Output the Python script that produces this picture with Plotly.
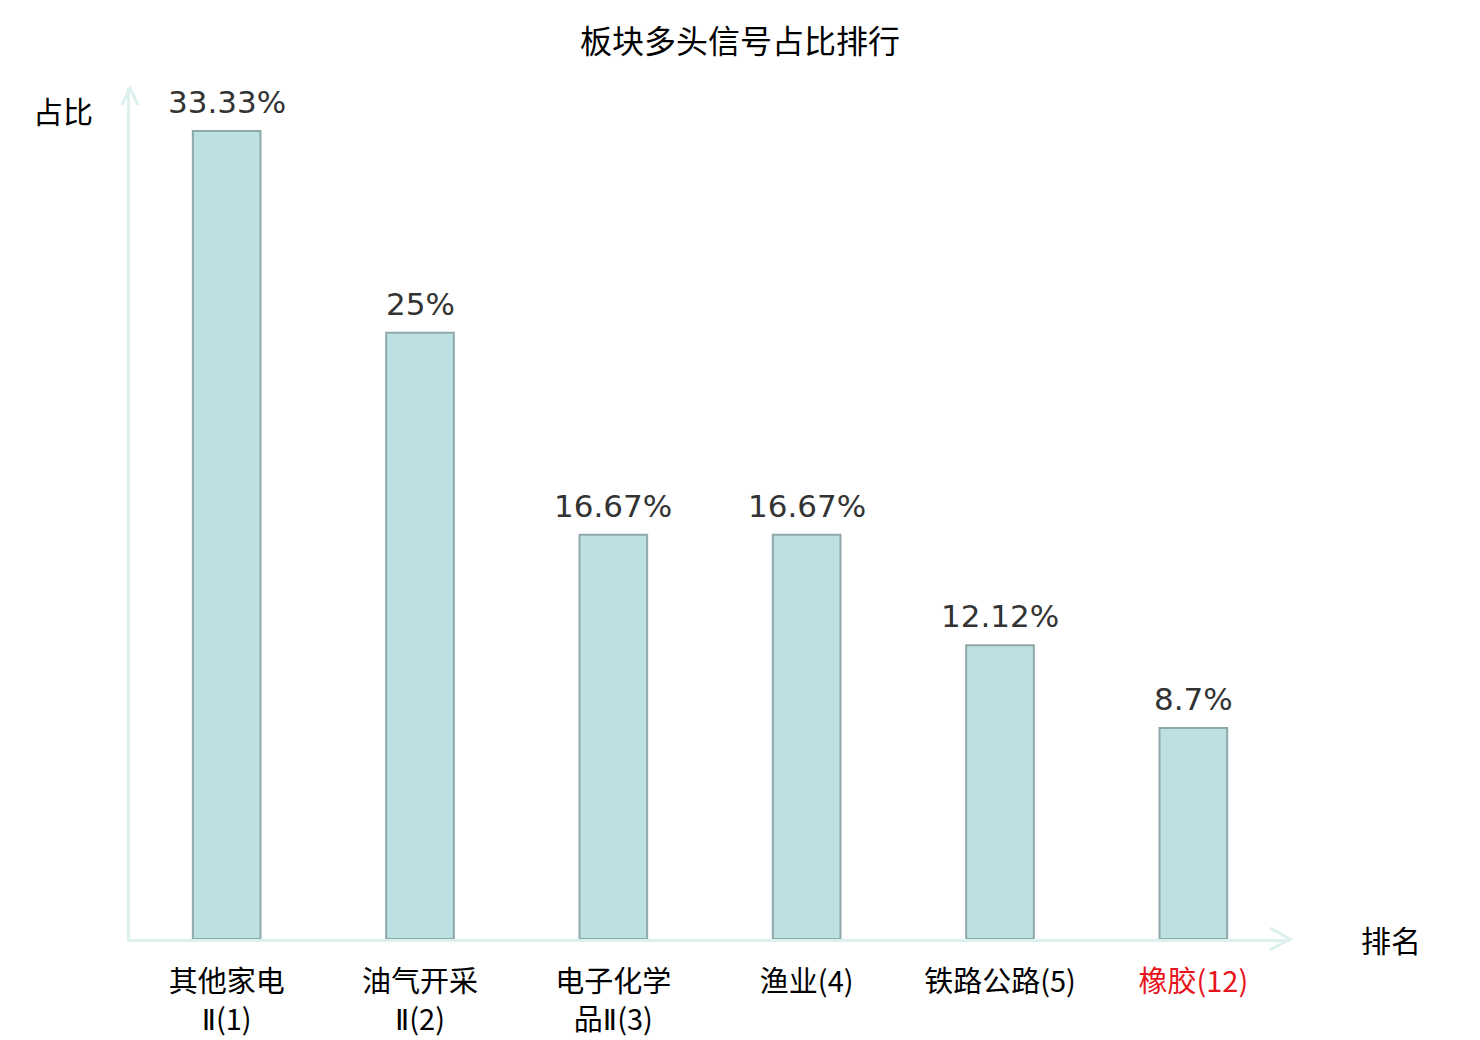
import plotly.graph_objects as go

# data
sectors = ['其他家电Ⅱ', '油气开采Ⅱ', '电子化学品Ⅱ', '渔业', '铁路公路', '橡胶']
ranks = [1, 2, 3, 4, 5, 12]
share = [33.33, 25, 16.67, 16.67, 12.12, 8.7]
share_text = ['33.33%', '25%', '16.67%', '16.67%', '12.12%', '8.7%']
ii = "<span style='font-family:DejaVu Sans'>Ⅱ</span>"
tick_labels = ['其他家电<br>' + ii + '(1)', '油气开采<br>' + ii + '(2)', '电子化学<br>品' + ii + '(3)',
               '渔业(4)', '铁路公路(5)', "<span style='color:#e8141c'>橡胶(12)</span>"]

axis_color = '#dcf1ee'
cjk = 'Noto Sans CJK SC'

x = list(range(len(sectors)))

fig = go.Figure()
fig.add_trace(go.Bar(
    x=x,
    y=share,
    width=0.35,
    marker=dict(color='#bde0e3', line=dict(color='#8fa8aa', width=2)),
    hoverinfo='skip',
))

# value labels above bars
for xi, v, t in zip(x, share, share_text):
    fig.add_annotation(x=xi, y=v, text=t, showarrow=False, yanchor='bottom', yshift=9,
                       font=dict(family='DejaVu Sans', size=31, color='#333333'))

# axis names
fig.add_annotation(x=-0.058, y=0.974, xref='paper', yref='paper', text='占比', showarrow=False,
                   xanchor='center', yanchor='middle', font=dict(family=cjk, size=30, color='#000000'))
fig.add_annotation(x=1.087, y=0.0, xref='paper', yref='paper', text='排名', showarrow=False,
                   xanchor='center', yanchor='middle', font=dict(family=cjk, size=30, color='#000000'))

# arrow heads on the axis ends
fig.add_shape(type='path', xref='paper', yref='paper', xsizemode='pixel', ysizemode='pixel',
              xanchor=1, yanchor=0, path='M -20 11 L 0 0 L -20 -11',
              line=dict(color=axis_color, width=3))
fig.add_shape(type='path', xref='paper', yref='paper', xsizemode='pixel', ysizemode='pixel',
              xanchor=0, yanchor=1, path='M -8 -17 L 0 0 L 8 -17',
              line=dict(color=axis_color, width=3))

fig.update_layout(
    width=1480,
    height=1040,
    margin=dict(l=122, r=198, t=80, b=109),
    paper_bgcolor='white',
    plot_bgcolor='white',
    showlegend=False,
    title=dict(text='板块多头信号占比排行', x=(740 - 8) / 1480, xref='container', y=1 - 34 / 1040,
               yref='container', xanchor='center', yanchor='middle',
               font=dict(family=cjk, size=32, color='#000000')),
    xaxis=dict(
        range=[-0.5, 5.5],
        tickmode='array',
        tickvals=x,
        ticktext=tick_labels,
        ticks='outside',
        ticklen=15,
        tickcolor='rgba(0,0,0,0)',
        showline=True,
        linecolor=axis_color,
        linewidth=3,
        showgrid=False,
        zeroline=False,
        automargin=False,
        tickfont=dict(family=cjk, size=29, color='#000000'),
    ),
    yaxis=dict(
        range=[0, 35.1],
        showticklabels=False,
        showline=True,
        linecolor=axis_color,
        linewidth=3,
        showgrid=False,
        zeroline=False,
        automargin=False,
        ticks='',
    ),
)

fig.write_html('out.html')
